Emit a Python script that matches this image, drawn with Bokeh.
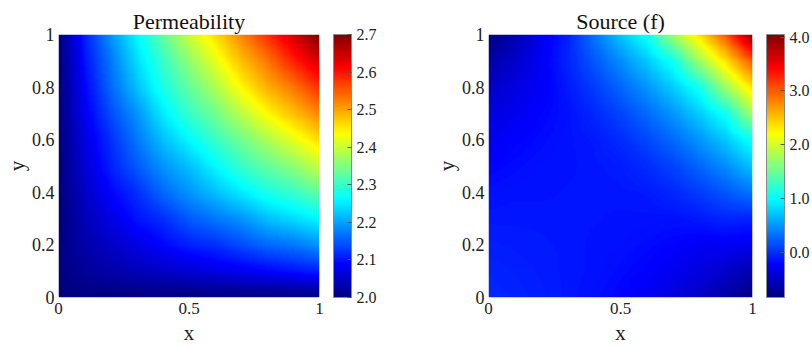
import numpy as np
from bokeh.plotting import figure
from bokeh.models import (LinearColorMapper, ColorBar, FixedTicker, Range1d,
                          PrintfTickFormatter, CustomJSTickFormatter)
from bokeh.layouts import row
from bokeh.embed import file_html
from bokeh.resources import INLINE

# ---------------- data ----------------
grid_coords = [0.0, 0.1, 0.2, 0.3, 0.4, 0.5, 0.6, 0.7, 0.8, 0.9, 1.0]

# rows: y = 0 .. 1 ; columns: x = 0 .. 1
perm_values = [
    [2.00, 2.00, 2.00, 2.00, 2.00, 2.00, 2.00, 2.00, 2.00, 2.00, 2.00],
    [2.00, 2.02, 2.03, 2.04, 2.05, 2.06, 2.07, 2.08, 2.09, 2.10, 2.11],
    [2.00, 2.03, 2.05, 2.07, 2.09, 2.11, 2.12, 2.14, 2.16, 2.17, 2.19],
    [2.00, 2.04, 2.07, 2.10, 2.12, 2.15, 2.17, 2.19, 2.22, 2.24, 2.26],
    [2.00, 2.05, 2.09, 2.12, 2.16, 2.19, 2.22, 2.25, 2.28, 2.30, 2.33],
    [2.00, 2.06, 2.11, 2.15, 2.19, 2.22, 2.26, 2.30, 2.33, 2.36, 2.40],
    [2.00, 2.07, 2.12, 2.17, 2.22, 2.26, 2.30, 2.34, 2.38, 2.42, 2.46],
    [2.00, 2.08, 2.14, 2.19, 2.25, 2.30, 2.34, 2.39, 2.44, 2.48, 2.52],
    [2.00, 2.09, 2.16, 2.22, 2.28, 2.33, 2.38, 2.44, 2.49, 2.53, 2.58],
    [2.00, 2.10, 2.17, 2.24, 2.30, 2.36, 2.42, 2.48, 2.53, 2.59, 2.64],
    [2.00, 2.11, 2.19, 2.26, 2.33, 2.40, 2.46, 2.52, 2.58, 2.64, 2.70],
]

source_values = [
    [-0.04, -0.06, -0.09, -0.12, -0.16, -0.21, -0.29, -0.38, -0.50, -0.64, -0.82],
    [-0.06, -0.08, -0.10, -0.12, -0.14, -0.18, -0.22, -0.29, -0.37, -0.47, -0.60],
    [-0.09, -0.10, -0.11, -0.12, -0.14, -0.15, -0.18, -0.21, -0.26, -0.27, -0.30],
    [-0.12, -0.12, -0.12, -0.13, -0.13, -0.14, -0.14, -0.15, -0.11, -0.05, -0.06],
    [-0.16, -0.14, -0.14, -0.13, -0.13, -0.12, -0.11, -0.04, 0.06, 0.19, 0.34],
    [-0.21, -0.18, -0.15, -0.14, -0.12, -0.10, -0.02, 0.10, 0.26, 0.45, 0.72],
    [-0.29, -0.22, -0.18, -0.14, -0.11, -0.02, 0.11, 0.28, 0.49, 0.74, 1.06],
    [-0.38, -0.29, -0.21, -0.15, -0.04, 0.10, 0.28, 0.50, 0.76, 1.07, 1.76],
    [-0.50, -0.37, -0.26, -0.11, 0.06, 0.26, 0.49, 0.76, 1.08, 1.75, 2.35],
    [-0.64, -0.47, -0.27, -0.05, 0.19, 0.45, 0.74, 1.07, 1.75, 2.35, 3.02],
    [-0.82, -0.60, -0.30, -0.06, 0.34, 0.72, 1.06, 1.76, 2.35, 3.02, 3.96],
]

x_ticks = [0, 0.5, 1]
y_ticks = [0, 0.2, 0.4, 0.6, 0.8, 1]
perm_range = [2.0, 2.7]
perm_ticks = [2.0, 2.1, 2.2, 2.3, 2.4, 2.5, 2.6, 2.7]
source_range = [-0.84, 4.05]
source_ticks = [0.0, 1.0, 2.0, 3.0, 4.0]
titles = ["Permeability", "Source (f)"]

# ---------------- styling helpers ----------------
FONT = "Liberation Serif"

t = np.linspace(0, 1, 256)
r = np.clip(1.5 - np.abs(4 * t - 3), 0, 1)
g = np.clip(1.5 - np.abs(4 * t - 2), 0, 1)
b = np.clip(1.5 - np.abs(4 * t - 1), 0, 1)
jet = ["#%02x%02x%02x" % (int(round(255 * R)), int(round(255 * G)), int(round(255 * B)))
       for R, G, B in zip(r, g, b)]


def refine(values, n=241):
    arr = np.array(values, dtype=float)
    c = np.array(grid_coords)
    f = np.linspace(0, 1, n)
    tmp = np.array([np.interp(f, c, rowv) for rowv in arr])
    out = np.array([np.interp(f, c, tmp[:, k]) for k in range(n)]).T
    return out


def make_panel(title, values, crange, cticks, border_left, frame_w, border_right):
    p = figure(width=border_left + frame_w + border_right, height=348,
               x_range=Range1d(0, 1), y_range=Range1d(0, 1),
               output_backend="svg", toolbar_location=None,
               min_border_left=border_left, min_border_right=border_right,
               min_border_top=34, min_border_bottom=51)
    p.title.text = title
    p.title.align = "center"
    p.title.text_font = FONT
    p.title.text_font_style = "normal"
    p.title.text_font_size = "22px"
    p.title.text_color = "#111111"
    p.title.standoff = 2

    mapper = LinearColorMapper(palette=jet, low=crange[0], high=crange[1])
    p.image(image=[refine(values)], x=0, y=0, dw=1, dh=1, color_mapper=mapper)

    p.xaxis.ticker = FixedTicker(ticks=x_ticks)
    p.yaxis.ticker = FixedTicker(ticks=y_ticks)
    fmt = CustomJSTickFormatter(code="return (tick == 0 || tick == 1) ? tick.toFixed(0) : String(tick);")
    p.xaxis.formatter = fmt
    p.yaxis.formatter = fmt
    p.xaxis.axis_label = "x"
    p.yaxis.axis_label = "y"
    for ax in (p.xaxis[0], p.yaxis[0]):
        ax.axis_line_color = None
        ax.major_tick_line_color = None
        ax.minor_tick_line_color = None
        ax.major_tick_out = 0
        ax.major_tick_in = 0
        ax.minor_tick_out = 0
        ax.major_label_standoff = 5
        ax.major_label_text_font = FONT
        ax.major_label_text_font_size = "17px"
        ax.major_label_text_color = "#222222"
        ax.axis_label_text_font = FONT
        ax.axis_label_text_font_style = "normal"
        ax.axis_label_text_font_size = "21px"
        ax.axis_label_text_color = "#222222"
        ax.axis_label_standoff = 4
    p.yaxis.axis_label_standoff = 0
    p.yaxis.major_label_standoff = 4
    p.yaxis.major_label_text_font_size = "18px"
    p.yaxis.major_label_orientation = "horizontal"

    p.xgrid.visible = False
    p.ygrid.visible = False
    p.outline_line_color = None

    cb = ColorBar(color_mapper=mapper, ticker=FixedTicker(ticks=cticks),
                  formatter=PrintfTickFormatter(format="%.1f"),
                  location=(frame_w + 14, 0), width=18, height=263,
                  padding=0, margin=0,
                  major_label_text_font=FONT, major_label_text_font_size="16px",
                  major_label_text_color="#222222",
                  major_tick_in=4, major_tick_out=0, major_tick_line_color="#555555",
                  minor_tick_line_color=None,
                  bar_line_color="#8a8a8a", label_standoff=5,
                  background_fill_color=None, border_line_color=None)
    p.add_layout(cb, "center")
    return p


p1 = make_panel(titles[0], perm_values, perm_range, perm_ticks, 58, 261, 87)
p2 = make_panel(titles[1], source_values, source_range, source_ticks, 82, 264, 60)
layout = row(p1, p2)

open("out.html", "w").write(file_html(layout, INLINE))
